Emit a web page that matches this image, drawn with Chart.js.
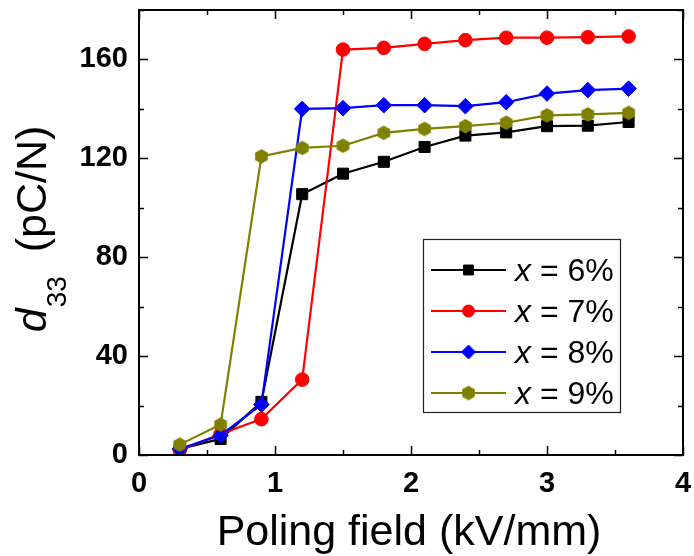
<!DOCTYPE html>
<html><head><meta charset="utf-8">
<script src="https://cdn.jsdelivr.net/npm/chart.js@4.4.0/dist/chart.umd.min.js"></script>
<style>html,body{margin:0;padding:0;background:#fff}#wrap{width:694px;height:556px}</style>
</head><body><div id="wrap"><canvas id="c" width="694" height="556"></canvas></div>
<script>
// ---- data ----
const fields = [0.3, 0.6, 0.9, 1.2, 1.5, 1.8, 2.1, 2.4, 2.7, 3.0, 3.3, 3.6];
const d33_x6 = [2.5, 6.5, 21.5, 105.5, 113.8, 118.6, 124.6, 129.2, 130.5, 133.0, 133.2, 134.7];
const d33_x7 = [2.0, 8.5, 14.5, 30.5, 164.0, 164.7, 166.3, 167.8, 168.8, 168.8, 169.0, 169.3];
const d33_x8 = [2.5, 8.0, 20.4, 140.0, 140.3, 141.5, 141.5, 141.1, 142.7, 146.2, 147.6, 148.2];
const d33_x9 = [4.2, 12.3, 120.8, 124.2, 125.1, 130.3, 131.9, 133.0, 134.4, 137.4, 137.8, 138.4];
const seriesLabels = ['6%', '7%', '8%', '9%'];
const xTicks = [0, 1, 2, 3, 4];
const yTicks = [0, 40, 80, 120, 160];

const FONT = '"Liberation Sans", Arial, Helvetica, sans-serif';

function hexagon(color, r) {
  const c = document.createElement('canvas');
  const s = Math.ceil(r * 2 + 2);
  c.width = s; c.height = s;
  const g = c.getContext('2d');
  g.fillStyle = color;
  g.beginPath();
  for (let k = 0; k < 6; k++) {
    const a = -Math.PI / 2 + k * Math.PI / 3;
    const px = s / 2 + r * Math.cos(a), py = s / 2 + r * Math.sin(a);
    k ? g.lineTo(px, py) : g.moveTo(px, py);
  }
  g.closePath(); g.fill();
  return c;
}
const hexOlive = hexagon('#808000', 7.3);

function pts(arr) { return fields.map((f, i) => ({x: f, y: arr[i]})); }

const styles = [
  {color: '#000000', pointStyle: 'rect', radius: 7.8},
  {color: '#ff0000', pointStyle: 'circle', radius: 6.8},
  {color: '#0000ff', pointStyle: 'rectRot', radius: 7.8},
  {color: '#808000', pointStyle: hexOlive, radius: 7}
];
const allSeries = [d33_x6, d33_x7, d33_x8, d33_x9];

const datasets = allSeries.map((arr, i) => ({
  label: 'x = ' + seriesLabels[i],
  data: pts(arr),
  borderColor: styles[i].color,
  backgroundColor: styles[i].color,
  pointBackgroundColor: styles[i].color,
  pointBorderColor: styles[i].color,
  pointBorderWidth: 1,
  pointStyle: styles[i].pointStyle,
  pointRadius: styles[i].radius,
  borderWidth: 2.2,
  tension: 0,
  order: 4 - i
}));

function noPad(s) { s.paddingLeft = 0; s.paddingRight = 0; s.paddingTop = 0; s.paddingBottom = 0; }

const framePlugin = {
  id: 'frame',
  afterDatasetsDraw(chart) {
    const {ctx, chartArea: a, scales} = chart;
    ctx.save();
    ctx.strokeStyle = '#000';
    ctx.lineWidth = 2;
    ctx.strokeRect(a.left, a.top, a.right - a.left, a.bottom - a.top);
    ctx.lineWidth = 1.5;
    for (let v = 0; v <= 4.0001; v += 0.5) {
      const px = Math.round(scales.x.getPixelForValue(v)) + 0.5;
      const len = (Math.abs(v - Math.round(v)) < 1e-6) ? 9 : 5;
      ctx.beginPath();
      ctx.moveTo(px, a.bottom); ctx.lineTo(px, a.bottom - len);
      ctx.moveTo(px, a.top); ctx.lineTo(px, a.top + len);
      ctx.stroke();
    }
    for (let v = 0; v <= 180; v += 20) {
      const py = Math.round(scales.y.getPixelForValue(v)) + 0.5;
      const len = (v % 40 === 0) ? 9 : 5;
      ctx.beginPath();
      ctx.moveTo(a.left, py); ctx.lineTo(a.left + len, py);
      ctx.moveTo(a.right, py); ctx.lineTo(a.right - len, py);
      ctx.stroke();
    }
    ctx.restore();
  },
  afterDraw(chart) {
    const {ctx, chartArea: a} = chart;
    ctx.save();
    ctx.fillStyle = '#000';
    ctx.font = '43px ' + FONT;
    ctx.textAlign = 'center';
    ctx.textBaseline = 'alphabetic';
    ctx.fillText('Poling field (kV/mm)', (a.left + a.right) / 2 - 2, 545);
    ctx.translate(46, (a.top + a.bottom) / 2 - 3);
    ctx.rotate(-Math.PI / 2);
    ctx.textAlign = 'left';
    const f1 = 'italic 43px ' + FONT, f2 = '28px ' + FONT, f3 = '43px ' + FONT;
    ctx.font = f1; const w1 = ctx.measureText('d').width;
    ctx.font = f2; const w2 = ctx.measureText('33').width;
    ctx.font = f3; const w3 = ctx.measureText('  (pC/N)').width;
    let x0 = -(w1 + w2 + w3) / 2;
    ctx.font = f1; ctx.fillText('d', x0, 0); x0 += w1 + 1;
    ctx.font = f2; ctx.fillText('33', x0, 20); x0 += w2;
    ctx.font = f3; ctx.fillText('  (pC/N)', x0, 0);
    ctx.restore();

    ctx.save();
    const bx = 423, by = 239, bw = 197, bh = 173;
    ctx.fillStyle = '#fff';
    ctx.fillRect(bx, by, bw, bh);
    ctx.strokeStyle = '#222';
    ctx.lineWidth = 1.2;
    ctx.strokeRect(bx + 0.5, by + 0.5, bw, bh);
    const rows = [270, 311, 352, 393];
    chart.data.datasets.forEach((ds, i) => {
      const y = rows[i];
      ctx.strokeStyle = ds.borderColor;
      ctx.lineWidth = 2.2;
      ctx.beginPath(); ctx.moveTo(431, y); ctx.lineTo(506, y); ctx.stroke();
      ctx.fillStyle = ds.pointBackgroundColor;
      ctx.strokeStyle = ds.pointBorderColor;
      ctx.lineWidth = 1;
      Chart.helpers.drawPoint(ctx, {pointStyle: ds.pointStyle, radius: ds.pointRadius - 0.8, rotation: 0, borderWidth: 1}, 468.5, y);
      ctx.fillStyle = '#000';
      ctx.textAlign = 'left';
      ctx.textBaseline = 'alphabetic';
      ctx.font = 'italic 32px ' + FONT;
      ctx.fillText('x', 515, y + 11);
      const wx = ctx.measureText('x').width;
      ctx.font = '32px ' + FONT;
      ctx.fillText(' = ' + seriesLabels[i], 515 + wx, y + 11);
    });
    ctx.restore();
  }
};

new Chart(document.getElementById('c'), {
  type: 'line',
  data: {datasets},
  options: {
    responsive: false,
    devicePixelRatio: 1,
    animation: false,
    layout: {padding: {top: 10, right: 11, left: 0, bottom: 0}},
    plugins: {legend: {display: false}, tooltip: {enabled: false}},
    scales: {
      x: {
        type: 'linear', min: 0, max: 4,
        afterBuildTicks: s => { s.ticks = xTicks.map(v => ({value: v})); },
        afterFit: s => { s.height = 101; noPad(s); },
        grid: {display: false, drawTicks: false},
        border: {display: false},
        ticks: {padding: 12, color: '#000', font: {family: FONT, size: 29, weight: 'bold'}, maxRotation: 0}
      },
      y: {
        type: 'linear', min: 0, max: 180,
        afterBuildTicks: s => { s.ticks = yTicks.map(v => ({value: v})); },
        afterFit: s => { s.width = 139; noPad(s); },
        grid: {display: false, drawTicks: false},
        border: {display: false},
        ticks: {padding: 11, color: '#000', font: {family: FONT, size: 29, weight: 'bold'}}
      }
    }
  },
  plugins: [framePlugin]
});
</script>
</body></html>
